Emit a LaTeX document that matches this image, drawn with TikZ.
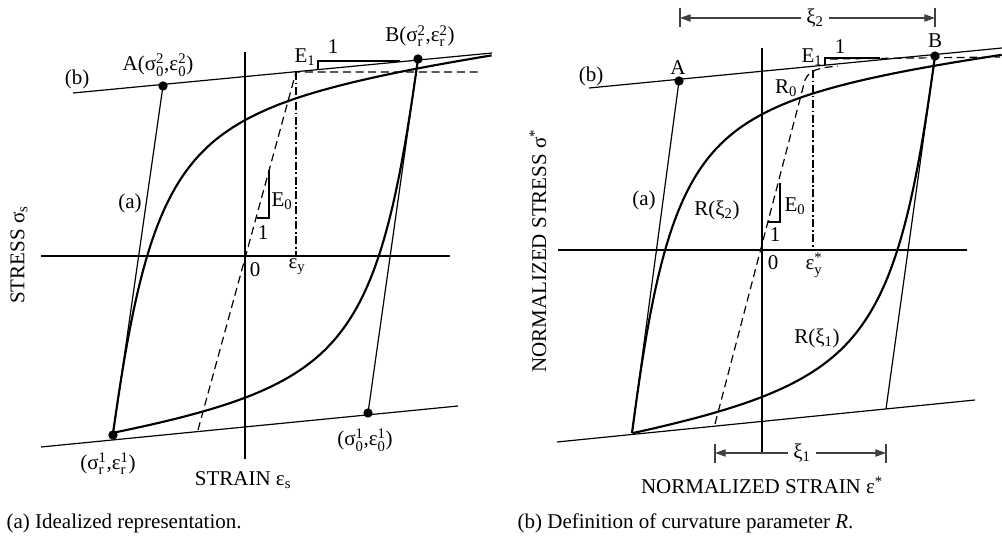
\documentclass[tikz,border=0pt]{standalone}
\usepackage{amsmath}
\usepackage{fontspec}
\setmainfont{Liberation Serif}
\usetikzlibrary{arrows.meta}

\newcommand{\lsub}[2]{#1$_{\text{#2}}$}
\newcommand{\lsup}[2]{#1$^{\text{#2}}$}
\newcommand{\lss}[3]{#1$^{\text{#2}}_{\text{#3}}$}

\begin{document}
\begin{tikzpicture}[
    x=0.75pt, y=-0.75pt,
    >={Triangle[length=8pt, width=5.5pt]},
    font=\fontsize{15.75}{18}\selectfont,
    declare function={mpf(\e,\b)=\b*\e+(1-\b)*\e/((1+\e^1.5)^(1/1.5));},
    axisline/.style={line width=1.4pt},
    asym/.style={line width=0.9pt},
    hyst/.style={line width=1.6pt, line join=round},
    bilin/.style={line width=0.9pt, dash pattern=on 6pt off 3.5pt},
    yieldline/.style={line width=0.9pt, dash pattern=on 6pt off 2pt on 1.2pt off 2pt},
    pt/.style={circle, fill, inner sep=0pt, minimum size=7pt},
    dimline/.style={line width=0.8pt, black!75},
    lbl/.style={inner sep=1pt}
]
\useasboundingbox (0,0) rectangle (1002,538);

%---------------- Panel (a): idealized representation ----------------
\coordinate (o1) at (245,256);
\coordinate (hl1) at (41,256);
\coordinate (hr1) at (450,256);
\coordinate (vt1) at (245,52);
\coordinate (vb1) at (245,459);
\draw[axisline] (hl1) -- (hr1);
\draw[axisline] (vt1) -- (vb1);

% asymptotes (b)
\coordinate (bl1) at (73,93);
\coordinate (br1) at (492,53);
\coordinate (ll1) at (41,447);
\coordinate (lr1) at (458,406);
\draw[asym] (bl1) -- (br1);
\draw[asym] (ll1) -- (lr1);

% points
\node[pt] (A1) at (163,86) {};
\node[pt] (B1) at (418,59) {};
\node[pt] (R1) at (113,435) {};
\node[pt] (O1) at (368,413) {};
\draw[asym] (A1.center) -- (R1.center);
\draw[asym] (O1.center) -- (B1.center);

% bilinear + yield
\coordinate (e1) at (296,72);
\coordinate (db1) at (198,430);
\coordinate (dh1) at (480,72);
\coordinate (ey1) at (296,256);
\draw[bilin] (db1) -- (e1) -- (dh1);
\draw[yieldline] (e1) -- (ey1);

% slope triangles
\draw[asym] (269,170) -- (269,218) -- (257,218);
\draw[asym] (318,69.6) -- (318,61) -- (400,61);

% loop branches (Menegotto-Pinto, R = 1.5)
\draw[hyst] plot[domain=0.01:2.753, samples=120, variable=\t]
    ({113+50*\t*\t}, {433-347*mpf(\t*\t,0.018)});
\draw[hyst] plot[domain=0.01:2.47, samples=120, variable=\t]
    ({418-50*\t*\t}, {59+354*mpf(\t*\t,0.019)});

% labels
\node[lbl] (la1) at (158,65) {A(\lss{σ}{2}{0},\lss{ε}{2}{0})};
\node[lbl] (lb1) at (420,36) {B(\lss{σ}{2}{r},\lss{ε}{2}{r})};
\node[lbl] (lbb1) at (77,79) {(b)};
\node[lbl] (lE11) at (305,57) {\lsub{E}{1}};
\node[lbl] (lon1) at (333,47) {1};
\node[lbl] (laa1) at (130,203) {(a)};
\node[lbl] (lE01) at (282,201) {\lsub{E}{0}};
\node[lbl] (lot1) at (263,233) {1};
\node[lbl] (lz1) at (255,270) {0};
\node[lbl] (ley1) at (297,267) {\lsub{ε}{y}};
\node[lbl] (lr1l) at (108,464) {(\lss{σ}{1}{r},\lss{ε}{1}{r})};
\node[lbl] (lo1l) at (365,440) {(\lss{σ}{1}{0},\lss{ε}{1}{0})};
\node[lbl, rotate=90] (ys1) at (19,255) {STRESS \lsub{σ}{s}};
\node[lbl] (xs1) at (243,480) {STRAIN \lsub{ε}{s}};
\node[lbl, anchor=west] (cap1) at (5,523) {(a) Idealized representation.};

%---------------- Panel (b): curvature parameter R ----------------
\coordinate (o2) at (762,250);
\coordinate (hl2) at (558,250);
\coordinate (hr2) at (967,250);
\coordinate (vt2) at (762,48);
\coordinate (vb2) at (762,453);
\draw[axisline] (hl2) -- (hr2);
\draw[axisline] (vt2) -- (vb2);

% asymptotes (b)
\coordinate (bl2) at (589,88);
\coordinate (br2) at (1002,48);
\coordinate (ll2) at (557,442);
\coordinate (lr2) at (975,400);
\draw[asym] (bl2) -- (br2);
\draw[asym] (ll2) -- (lr2);

% points
\node[pt] (A2) at (679,81) {};
\node[pt] (B2) at (935,56) {};
\coordinate (R2) at (632,433);
\coordinate (O2) at (886,409);
\draw[asym] (A2.center) -- (R2);
\draw[asym] (O2) -- (B2.center);

% bilinear with R0 + yield
\coordinate (db2) at (715,424);
\coordinate (e2) at (813,70);
\coordinate (ey2) at (813,250);
\draw[bilin] (db2) -- (805,80) .. controls (809,71) and (816,68) .. (838,66);
\draw[bilin] (830,59) -- (1000,57);
\draw[yieldline] (e2) -- (ey2);

% slope triangles
\draw[asym] (780,183) -- (780,222) -- (768,222);
\draw[asym] (825,65) -- (825,58) -- (880,58);

% loop branches (Menegotto-Pinto, R = 1.5)
\draw[hyst] plot[domain=0.01:2.806, samples=120, variable=\t]
    ({632+47*\t*\t}, {433-352*mpf(\t*\t,0.015)});
\draw[hyst] plot[domain=0.01:2.486, samples=120, variable=\t]
    ({935-49*\t*\t}, {56+353*mpf(\t*\t,0.021)});

% dimensions xi
\coordinate (x2l) at (680,18);
\coordinate (x2r) at (935,18);
\node[lbl, fill=white, inner xsep=4pt] (lx2) at (815,18) {\lsub{ξ}{2}};
\draw[dimline] (680,8) -- (680,27);
\draw[dimline] (935,8) -- (935,27);
\draw[dimline, ->] (lx2) -- (x2l);
\draw[dimline, ->] (lx2) -- (x2r);

\coordinate (x1l) at (715,453);
\coordinate (x1r) at (886,453);
\node[lbl, fill=white, inner xsep=4pt] (lx1) at (802,453) {\lsub{ξ}{1}};
\draw[dimline] (715,444) -- (715,463);
\draw[dimline] (886,444) -- (886,463);
\draw[dimline, ->] (lx1) -- (x1l);
\draw[dimline, ->] (lx1) -- (x1r);

% labels
\node[lbl] (la2) at (678,68) {A};
\node[lbl] (lb2) at (935,41) {B};
\node[lbl] (lbb2) at (591,76) {(b)};
\node[lbl] (lE12) at (812,57) {\lsub{E}{1}};
\node[lbl] (lon2) at (840,47) {1};
\node[lbl] (lR0) at (786,88) {\lsub{R}{0}};
\node[lbl] (laa2) at (644,200) {(a)};
\node[lbl] (lRx2) at (717,210) {R(\lsub{ξ}{2})};
\node[lbl] (lE02) at (795,206) {\lsub{E}{0}};
\node[lbl] (lot2) at (775,235) {1};
\node[lbl] (lz2) at (773,263) {0};
\node[lbl] (ley2) at (814,265) {\lss{ε}{*}{y}};
\node[lbl] (lRx1) at (817,338) {R(\lsub{ξ}{1})};
\node[lbl, rotate=90] (ys2) at (538,251) {NORMALIZED STRESS \lsup{σ}{*}};
\node[lbl] (xs2) at (762,485) {NORMALIZED STRAIN \lsup{ε}{*}};
\node[lbl, anchor=west] (cap2) at (516,523) {(b) Definition of curvature parameter \textit{R}.};

\end{tikzpicture}
\end{document}
